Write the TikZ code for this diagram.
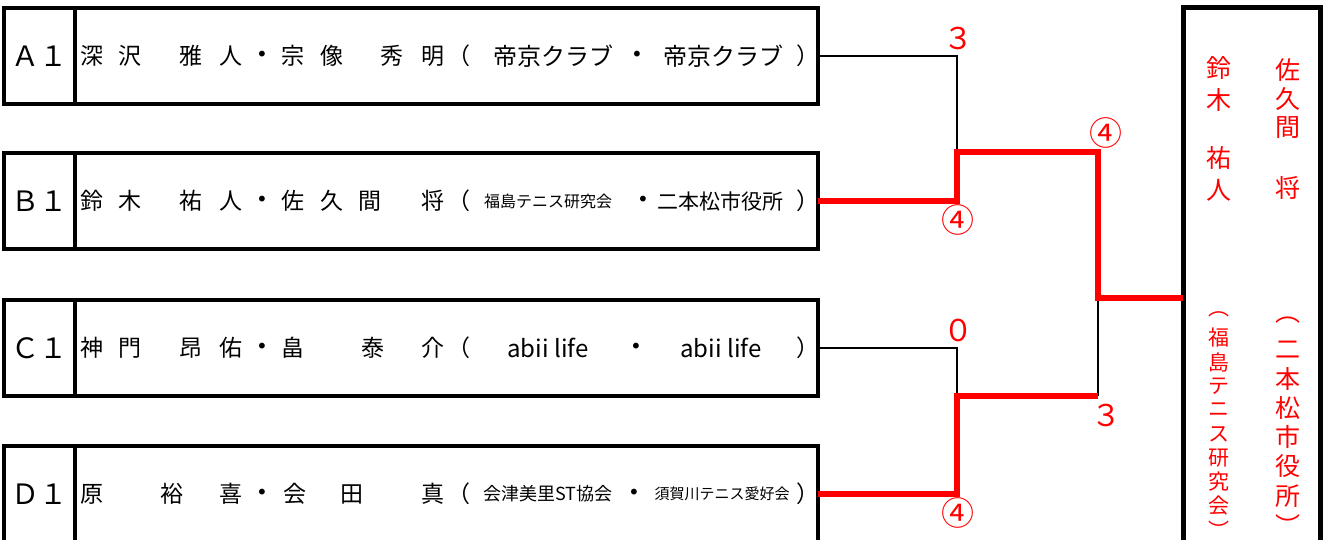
\documentclass[tikz,border=0pt]{standalone}
\usepackage{fontspec}
\setmainfont{Noto Sans CJK JP}
\newfontfamily\dotfont{DejaVu Sans}
\usetikzlibrary{positioning}

\tikzset{
  tag/.style={draw, line width=3.2pt, outer sep=0pt, inner sep=0pt,
    minimum width=71pt, minimum height=96pt, font=\fontsize{28}{30}\selectfont},
  field/.style={draw, line width=3.2pt, outer sep=0pt, inner sep=0pt,
    minimum width=743pt, minimum height=96pt},
  cell/.style={inner sep=0pt, font=\fontsize{23}{25}\selectfont},
  sep/.style={inner sep=0pt, font=\dotfont\fontsize{20}{22}\selectfont},
  club/.style={inner sep=0pt, font=\fontsize{#1}{#1}\selectfont},
  link/.style={line width=2.2pt},
  win/.style={red, line width=6.5pt},
  score/.style={red, inner sep=0pt, font=\fontsize{30}{32}\selectfont},
  maru/.style={red, inner sep=0pt, font=\fontsize{33}{35}\selectfont},
  tate/.style={red, inner sep=0pt, font=\fontsize{#1}{#1}\selectfont},
}

\begin{document}
\begin{tikzpicture}[x=1pt, y=-1pt]
    \useasboundingbox (0,0) rectangle (1327,539);
    \clip (0,0) rectangle (1327,539);

    % Entry boxes
    \node[tag] (A) at (39.5,56) {Ａ１};
    \node[field, right=0pt of A] (Af) {};
    \node[tag] (B) at (39.5,201) {Ｂ１};
    \node[field, right=0pt of B] (Bf) {};
    \node[tag] (C) at (39.5,348) {Ｃ１};
    \node[field, right=0pt of C] (Cf) {};
    \node[tag] (D) at (39.5,494) {Ｄ１};
    \node[field, right=0pt of D] (Df) {};

    % Player names
    \foreach \x/\ch [count=\i] in {92/深,130/沢,191/雅,231/人,293/宗,332/像,392/秀,433/明,459/（}
        \node[cell] (a\i) at (\x,56) {\ch};
    \foreach \x/\ch [count=\i] in {92/鈴,130/木,191/祐,231/人,293/佐,332/久,370/間,433/将,459/（}
        \node[cell] (b\i) at (\x,201) {\ch};
    \foreach \x/\ch [count=\i] in {92/神,130/門,191/昂,231/佑,293/畠,373/泰,433/介,459/（}
        \node[cell] (c\i) at (\x,348) {\ch};
    \foreach \x/\ch [count=\i] in {92/原,172/裕,231/喜,295/会,352/田,433/真,459/（}
        \node[cell] (d\i) at (\x,494) {\ch};
    \foreach \y [count=\i] in {56,201,348,494}
        \node[sep] (n\i) at (262,\y) {•};

    % Clubs
    \node[club=24] (Ac1) at (553,56) {帝京クラブ};
    \node[sep] (Adot) at (637,56) {•};
    \node[club=24] (Ac2) at (723,56) {帝京クラブ};
    \node[cell] (Ar) at (808,56) {）};
    \node[club=16] (Bc1) at (548,201) {福島テニス研究会};
    \node[sep] (Bdot) at (643,201) {•};
    \node[club=21] (Bc2) at (720,201) {二本松市役所};
    \node[cell] (Br) at (808,201) {）};
    \node[club=24] (Cc1) at (548,348) {abii life};
    \node[sep] (Cdot) at (636,348) {•};
    \node[club=24] (Cc2) at (721,348) {abii life};
    \node[cell] (Cr) at (808,348) {）};
    \node[club=18] (Dc1) at (548,494) {会津美里ST協会};
    \node[sep] (Ddot) at (634,494) {•};
    \node[club=15] (Dc2) at (722,494) {須賀川テニス愛好会};
    \node[cell] (Dr) at (808,494) {）};

    % Winner box
    \node[draw, line width=5pt, outer sep=0pt, inner sep=0pt,
        minimum width=137pt, minimum height=560pt] (W) at (1251.5,287) {};

    % Bracket
    \coordinate (m1) at (957,152);
    \coordinate (m2) at (957,396);
    \coordinate (f) at (1098,298);
    \coordinate (g) at (1098,396);
    \draw[link] (Af.east) -| (m1);
    \draw[link] (Cf.east) -| (m2);
    \draw[link] (f) -- (g);
    \draw[win] (Bf.east) -| (m1) -| (f) -- (f -| W.west);
    \draw[win] (Df.east) -| (m2) -- (g);

    % Scores
    \node[score] (sA) at (958,38) {３};
    \node[maru] (sB) at (958,220) {④};
    \node[maru] (sAB) at (1106,133) {④};
    \node[score] (sC) at (958,330) {０};
    \node[score] (sCD) at (1106,415) {３};
    \node[maru] (sD) at (958,513) {④};

    % Winner names
    \foreach \y/\ch [count=\i] in {68/鈴,100/木,158/祐,190/人}
        \node[tate=25] (p\i) at (1219,\y) {\ch};
    \foreach \y/\ch [count=\i] in {70/佐,99/久,128/間,188/将}
        \node[tate=25] (q\i) at (1288,\y) {\ch};
    \foreach \ch [count=\i] in {︵,福,島,テ,ニ,ス,研,究,会,︶}
        \node[tate=21] (u\i) at (1219,{290+24*\i}) {\ch};
    \foreach \ch [count=\i] in {︵,二,本,松,市,役,所,︶}
        \node[tate=25] (v\i) at (1288,{290.7+29.3*\i}) {\ch};
\end{tikzpicture}
\end{document}
